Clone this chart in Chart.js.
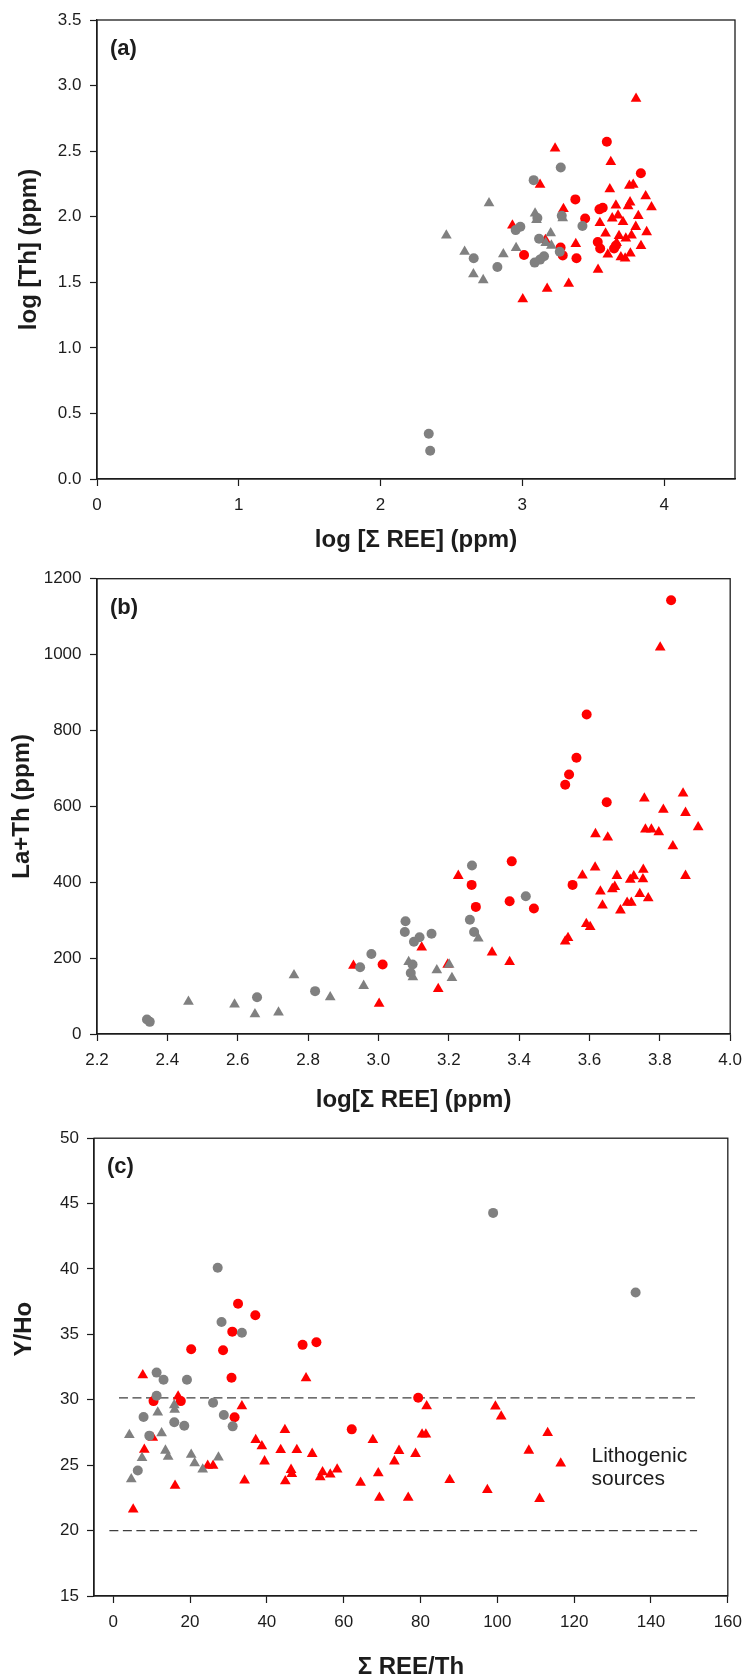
<!DOCTYPE html>
<html>
<head>
<meta charset="utf-8">
<title>Th, La+Th and Y/Ho against REE</title>
<script src="https://cdn.jsdelivr.net/npm/chart.js@4.4.1/dist/chart.umd.min.js"></script>
<style>
  body { margin: 0; background: #fff; }
  canvas.panel { position: absolute; left: 0; }
</style>
</head>
<body>
<canvas id="chartA" class="panel" width="751" height="560" style="top:0px"></canvas>
<canvas id="chartB" class="panel" width="751" height="560" style="top:560px"></canvas>
<canvas id="chartC" class="panel" width="751" height="559" style="top:1120px"></canvas>
<script>
// (a) log[Th] against log[sum REE], [x, y] pairs
const aGrayCircles = [[2.34, 0.345], [2.35, 0.215], [2.657, 1.683], [2.824, 1.616], [2.953, 1.898], [2.986, 1.923],
  [3.08, 2.279], [3.271, 2.375], [3.278, 2.007], [3.106, 1.99], [3.118, 1.832], [3.153, 1.698], [3.087, 1.65],
  [3.125, 1.673], [3.264, 1.733], [3.424, 1.929]];
const aGrayTriangles = [[2.464, 1.858], [2.765, 2.104], [2.593, 1.733], [2.655, 1.562], [2.724, 1.517], [2.866, 1.715],
  [2.956, 1.762], [3.09, 2.025], [3.1, 1.975], [3.2, 1.875], [3.165, 1.8], [3.205, 1.78], [3.285, 1.99]];
const aRedCircles = [[3.596, 2.571], [3.836, 2.332], [3.374, 2.132], [3.443, 1.987], [3.544, 2.056], [3.567, 2.069],
  [3.012, 1.708], [3.27, 1.765], [3.285, 1.705], [3.382, 1.683], [3.532, 1.807], [3.549, 1.758], [3.647, 1.758],
  [3.66, 1.78]];
const aRedTriangles = [[3.802, 2.9], [3.231, 2.52], [3.624, 2.418], [3.125, 2.244], [3.617, 2.21], [3.755, 2.236],
  [3.782, 2.245], [3.87, 2.156], [3.911, 2.073], [3.29, 2.06], [3.66, 2.086], [3.76, 2.11], [3.746, 2.08],
  [3.818, 2.006], [3.634, 1.988], [3.675, 2.01], [3.71, 1.96], [3.547, 1.952], [3.8, 1.923], [3.587, 1.872],
  [3.682, 1.853], [3.73, 1.835], [3.77, 1.857], [3.877, 1.883], [3.837, 1.778], [3.377, 1.792], [3.163, 1.823],
  [3.603, 1.712], [3.695, 1.692], [3.725, 1.682], [3.762, 1.72], [3.665, 1.8], [3.534, 1.596], [3.327, 1.49],
  [3.175, 1.452], [3.003, 1.371], [2.93, 1.933]];
const aTicksX = [0, 1, 2, 3, 4];
const aTicksY = [0, 0.5, 1, 1.5, 2, 2.5, 3, 3.5];

// (b) La+Th against log[sum REE]
const bGrayCircles = [[2.342, 38], [2.35, 32], [2.655, 97], [2.82, 113], [2.948, 176], [2.98, 211], [3.077, 297],
  [3.075, 269], [3.101, 243], [3.117, 255], [3.151, 264], [3.097, 183], [3.092, 161], [3.266, 444], [3.26, 301],
  [3.272, 269], [3.419, 363]];
const bGrayTriangles = [[2.46, 85], [2.591, 78], [2.649, 52], [2.716, 57], [2.76, 155], [2.863, 97], [2.958, 127],
  [3.086, 190], [3.098, 150], [3.166, 168], [3.201, 183], [3.209, 148], [3.284, 252]];
const bRedCircles = [[3.832, 1143], [3.592, 842], [3.563, 728], [3.542, 684], [3.531, 657], [3.649, 611],
  [3.379, 455], [3.265, 393], [3.277, 335], [3.373, 350], [3.442, 331], [3.552, 393], [3.012, 183]];
const bRedTriangles = [[3.801, 1019], [3.756, 621], [3.866, 634], [3.81, 591], [3.873, 583], [3.909, 545],
  [3.759, 539], [3.776, 539], [3.797, 532], [3.837, 495], [3.617, 527], [3.652, 518], [3.873, 417], [3.753, 433],
  [3.58, 418], [3.616, 439], [3.678, 417], [3.672, 388], [3.665, 382], [3.726, 416], [3.716, 407], [3.752, 408],
  [3.631, 376], [3.637, 339], [3.743, 369], [3.767, 358], [3.707, 346], [3.719, 346], [3.688, 326], [3.591, 290],
  [3.602, 282], [3.531, 244], [3.539, 253], [3.227, 417], [3.123, 228], [3.323, 215], [3.373, 190], [3.197, 183],
  [2.929, 180], [3.17, 119], [3.002, 80]];
const bTicksX = [2.2, 2.4, 2.6, 2.8, 3.0, 3.2, 3.4, 3.6, 3.8, 4.0];
const bTicksY = [0, 200, 400, 600, 800, 1000, 1200];

// (c) Y/Ho against sum REE/Th
const cGrayCircles = [[27.2, 40.1], [28.2, 35.95], [33.5, 35.13], [11.3, 32.08], [13.1, 31.53], [19.2, 31.53],
  [11.3, 30.31], [7.9, 28.69], [9.4, 27.26], [6.4, 24.59], [15.9, 28.28], [18.5, 28.02], [26.0, 29.78],
  [28.8, 28.84], [31.1, 27.97], [98.9, 44.29], [136.0, 38.21]];
const cGrayTriangles = [[4.2, 27.31], [4.7, 23.93], [7.5, 25.56], [11.6, 29.04], [12.6, 27.45], [13.6, 26.12],
  [14.3, 25.65], [15.9, 29.6], [16.0, 29.25], [20.3, 25.8], [21.2, 25.15], [23.3, 24.67], [27.4, 25.6]];
const cRedCircles = [[20.3, 33.87], [32.5, 37.34], [37.0, 36.46], [31.0, 35.21], [28.6, 33.79], [30.8, 31.68],
  [31.6, 28.66], [10.5, 29.9], [17.6, 29.9], [49.3, 34.2], [52.9, 34.4], [62.1, 27.74], [79.4, 30.16]];
const cRedTriangles = [[7.7, 31.89], [5.2, 21.62], [8.1, 26.19], [10.3, 27.1], [16.1, 23.43], [16.9, 30.26],
  [24.6, 24.97], [26.0, 24.97], [33.5, 29.52], [34.2, 23.83], [37.1, 26.93], [38.7, 26.45], [39.4, 25.3],
  [43.6, 26.17], [44.7, 27.7], [44.8, 23.78], [46.3, 24.65], [46.5, 24.34], [47.8, 26.17], [50.2, 31.66],
  [51.8, 25.87], [53.9, 24.08], [54.5, 24.46], [56.5, 24.29], [58.3, 24.67], [64.4, 23.66], [67.6, 26.93],
  [69.0, 24.39], [69.3, 22.51], [73.2, 25.3], [74.4, 26.1], [76.8, 22.51], [78.7, 25.87], [80.4, 27.36],
  [81.4, 27.36], [81.6, 29.52], [87.6, 23.87], [97.4, 23.11], [99.5, 29.49], [101.0, 28.73], [108.2, 26.12],
  [113.1, 27.47], [111.0, 22.43], [116.5, 25.13]];
// lithogenic range of Y/Ho, each line as [xStart, xEnd, y]
const cLithoLines = [[1.5, 152, 30.15], [-1, 152, 20]];
const cTicksX = [0, 20, 40, 60, 80, 100, 120, 140, 160];
const cTicksY = [15, 20, 25, 30, 35, 40, 45, 50];

const RED = '#ff0000';
const GRAY = '#808080';
const INK = '#1c1c1c';
const FAMILY = "'Liberation Sans', Arial, sans-serif";
const tickFont = { family: FAMILY, size: 17 };
const titleFont = { family: FAMILY, size: 24, weight: 'bold', lineHeight: 1 };

function series(pairs, color, style) {
  return {
    data: pairs.map(p => ({ x: p[0], y: p[1] })),
    pointStyle: style,
    pointRadius: style === 'triangle' ? 6.2 : 5,
    pointHoverRadius: style === 'triangle' ? 6.2 : 5,
    pointBackgroundColor: color,
    pointBorderWidth: 0
  };
}

function dashed(line) {
  return {
    type: 'line',
    data: [{ x: line[0], y: line[2] }, { x: line[1], y: line[2] }],
    borderColor: '#3f3f3f',
    borderWidth: 1.2,
    borderDash: [9, 4.5],
    pointRadius: 0,
    showLine: true
  };
}

// linear axis with fixed ticks, fixed box size and outward tick marks
function axis(o) {
  return {
    type: 'linear',
    min: o.min,
    max: o.max,
    afterBuildTicks: s => { s.ticks = o.ticks.map(v => ({ value: v })); },
    afterFit: s => {
      if (s.isHorizontal()) s.height = o.size; else s.width = o.size;
    },
    grid: { drawOnChartArea: false, tickLength: 7, tickColor: INK, tickWidth: 1.2 },
    border: { color: INK, width: 1.3 },
    ticks: { font: tickFont, color: INK, padding: o.pad, autoSkip: false, maxRotation: 0, callback: o.fmt },
    title: o.title ? { display: true, text: o.title, color: INK, font: titleFont, padding: o.titlePad } : { display: false }
  };
}

const panelDecor = {
  id: 'panelDecor',
  afterDraw(chart, args, opts) {
    const { ctx, chartArea: a, scales } = chart;
    ctx.save();
    ctx.strokeStyle = INK;
    ctx.lineWidth = 1.3;
    ctx.strokeRect(a.left, a.top, a.right - a.left, a.bottom - a.top);

    ctx.fillStyle = INK;
    ctx.textBaseline = 'middle';
    ctx.textAlign = 'left';
    ctx.font = 'bold 22px ' + FAMILY;
    ctx.fillText(opts.letter, a.left + 13, a.top + 29);

    (opts.notes || []).forEach(n => {
      ctx.font = n.size + 'px ' + FAMILY;
      const x = scales.x.getPixelForValue(n.x);
      let y = scales.y.getPixelForValue(n.y);
      n.lines.forEach(line => { ctx.fillText(line, x, y); y += n.gap; });
    });

    if (opts.yTitle) {
      const t = opts.yTitle;
      ctx.translate(t.left, scales.y.getPixelForValue(t.at));
      ctx.rotate(-Math.PI / 2);
      ctx.textAlign = 'center';
      ctx.font = 'bold 24px ' + FAMILY;
      ctx.fillText(t.text, 0, 0);
    }
    ctx.restore();
  }
};

function makeChart(id, datasets, scales, padding, decor) {
  return new Chart(document.getElementById(id), {
    type: 'scatter',
    data: { datasets: datasets },
    options: {
      responsive: false,
      animation: false,
      events: [],
      layout: { padding: padding },
      plugins: { legend: { display: false }, tooltip: { enabled: false }, panelDecor: decor },
      scales: scales
    },
    plugins: [panelDecor]
  });
}

// gray sets go first so they sit on top of the red ones
makeChart('chartA', [
  series(aGrayCircles, GRAY, 'circle'),
  series(aGrayTriangles, GRAY, 'triangle'),
  series(aRedCircles, RED, 'circle'),
  series(aRedTriangles, RED, 'triangle')
], {
  x: axis({ min: 0, max: 4.5, ticks: aTicksX, size: 81, pad: 9, fmt: v => String(v),
    title: 'log [\u03a3 REE] (ppm)', titlePad: { top: 0, bottom: 8 } }),
  y: axis({ min: 0, max: 3.5, ticks: aTicksY, size: 97, pad: 8.5, fmt: v => v.toFixed(1),
    title: 'log [Th] (ppm)', titlePad: { top: 17, bottom: 0 } })
}, { top: 20, right: 16, left: 0, bottom: 0 }, { letter: '(a)' });

makeChart('chartB', [
  series(bGrayCircles, GRAY, 'circle'),
  series(bGrayTriangles, GRAY, 'triangle'),
  series(bRedCircles, RED, 'circle'),
  series(bRedTriangles, RED, 'triangle')
], {
  x: axis({ min: 2.2, max: 4.0, ticks: bTicksX, size: 86, pad: 9, fmt: v => v.toFixed(1),
    title: 'log[\u03a3 REE] (ppm)', titlePad: { top: 0, bottom: 8 } }),
  y: axis({ min: 0, max: 1200, ticks: bTicksY, size: 97, pad: 8.5, fmt: v => String(v),
    title: 'La+Th (ppm)', titlePad: { top: 10, bottom: 0 } })
}, { top: 15, right: 17, left: 0, bottom: 0 }, { letter: '(b)' });

makeChart('chartC', [
  series(cGrayCircles, GRAY, 'circle'),
  series(cGrayTriangles, GRAY, 'triangle'),
  series(cRedCircles, RED, 'circle'),
  series(cRedTriangles, RED, 'triangle')
].concat(cLithoLines.map(dashed)), {
  x: axis({ min: -5, max: 160, ticks: cTicksX, size: 83, pad: 9, fmt: v => String(v),
    title: '\u03a3 REE/Th', titlePad: { top: 0, bottom: 0 } }),
  y: axis({ min: 15, max: 50, ticks: cTicksY, size: 94, pad: 8, fmt: v => String(v) })
}, { top: 17, right: 18, left: 0, bottom: 0 }, {
  letter: '(c)',
  notes: [{ x: 124.5, y: 25.66, size: 21, gap: 23, lines: ['Lithogenic', 'sources'] }],
  yTitle: { text: 'Y/Ho', left: 24, at: 35.4 }
});
</script>
</body>
</html>
